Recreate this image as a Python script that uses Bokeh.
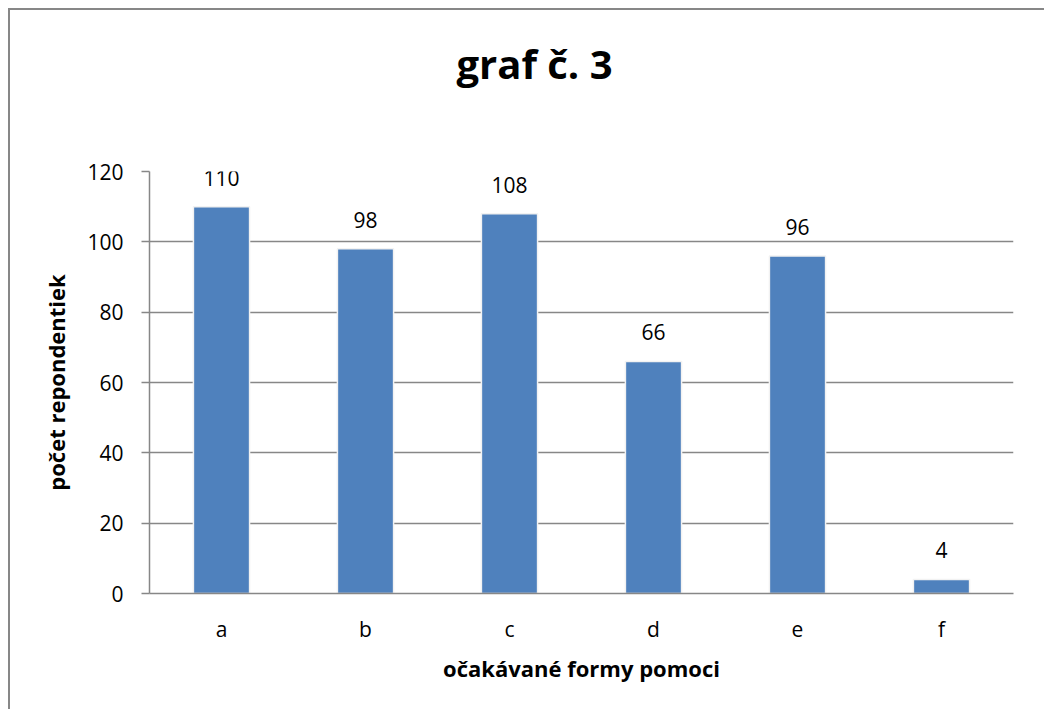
from bokeh.plotting import figure
from bokeh.models import ColumnDataSource, Range1d, FixedTicker, Title
from bokeh.core.properties import value
from bokeh.embed import file_html
from bokeh.resources import INLINE

categories = ["a", "b", "c", "d", "e", "f"]
counts = [110, 98, 108, 66, 96, 4]
y_ticks = [0, 20, 40, 60, 80, 100, 120]
title_text = "graf č. 3"
x_title = "očakávané formy pomoci"
y_title = "počet repondentiek"

FONT = "Open Sans"
GRAY = "#878787"
BAR = "#4F81BD"

src = ColumnDataSource(dict(cat=categories, val=counts, lab=[str(v) for v in counts]))

p = figure(x_range=categories, y_range=Range1d(0, 120),
           width=1036, height=701, output_backend="svg", toolbar_location=None,
           min_border_left=139, min_border_right=33, min_border_top=161, min_border_bottom=118,
           styles={"border-top": "2px solid #878787", "border-left": "2px solid #878787",
                   "margin-left": "8px", "margin-top": "8px"})
p.title.visible = False

p.vbar(x="cat", top="val", width=0.39, source=src, fill_color=BAR, line_color="#f2f2f2", line_width=1.5)
p.text(x="cat", y="val", text="lab", source=src, text_align="center", text_baseline="alphabetic",
       y_offset=-29, text_font=value(FONT), text_font_size="21px", text_color="black")

# spacer panel between the frame and the chart title
p.add_layout(Title(text=" ", text_font_size="10px", standoff=63), "above")
p.add_layout(Title(text=title_text, align="left", offset=307, standoff=10,
                   text_font=FONT, text_font_size="40px", text_font_style="bold",
                   text_color="black"), "above")

p.outline_line_color = None
p.xgrid.grid_line_color = None
p.ygrid.grid_line_color = GRAY
p.ygrid.grid_line_width = 1.5
p.yaxis.ticker = FixedTicker(ticks=y_ticks)

for ax in (p.xaxis[0], p.yaxis[0]):
    ax.axis_line_color = GRAY
    ax.axis_line_width = 1.5
    ax.major_label_text_font = FONT
    ax.major_label_text_font_size = "21px"
    ax.major_label_text_color = "black"
    ax.axis_label_text_font = FONT
    ax.axis_label_text_font_size = "22px"
    ax.axis_label_text_font_style = "bold"
    ax.axis_label_text_color = "black"
    ax.minor_tick_line_color = None

p.xaxis.major_tick_line_color = None
p.xaxis.major_tick_out = 0
p.xaxis.major_tick_in = 0
p.xaxis.major_label_standoff = 21
p.xaxis.axis_label = x_title
p.xaxis.axis_label_standoff = 7

p.yaxis.major_tick_line_color = GRAY
p.yaxis.major_tick_line_width = 1.5
p.yaxis.major_tick_out = 8
p.yaxis.major_tick_in = 0
p.yaxis.major_label_standoff = 18
p.yaxis.axis_label = y_title
p.yaxis.axis_label_standoff = 13

open("out.html", "w").write(file_html(p, INLINE))
